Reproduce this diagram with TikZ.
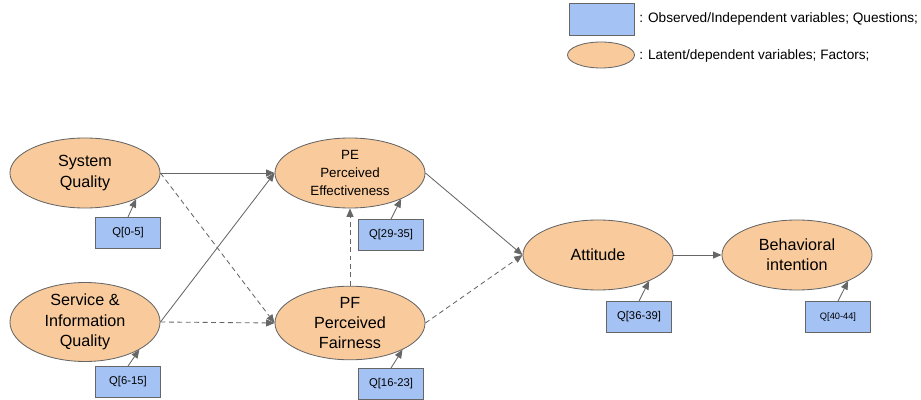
\documentclass[tikz,border=0pt]{standalone}
\usepackage{fontspec}
\setmainfont{Liberation Sans}
\usetikzlibrary{arrows.meta,shapes.geometric}
\definecolor{factorfill}{HTML}{F9CB9C}
\definecolor{questfill}{HTML}{A4C2F4}
\definecolor{linegray}{HTML}{666666}
\tikzset{
  factor/.style={ellipse, draw=linegray, fill=factorfill, line width=0.6pt,
    minimum width=3.75cm, minimum height=1.75cm, inner sep=0pt, align=center,
    font=\fontsize{11.5}{14.5}\selectfont},
  quest/.style={rectangle, draw=linegray, fill=questfill, line width=0.6pt,
    minimum width=1.625cm, minimum height=0.775cm, inner sep=0pt,
    font=\fontsize{8}{9.6}\selectfont},
  legtext/.style={anchor=west, inner sep=0pt, font=\fontsize{9.7}{11.5}\selectfont},
  link/.style={-{Triangle[length=6pt,width=5pt]}, draw=linegray, line width=0.6pt},
  weak/.style={link, dash pattern=on 3.5pt off 2.5pt},
}

\begin{document}
\begin{tikzpicture}[x=0.025cm, y=-0.025cm]
\useasboundingbox (0,0) rectangle (921,400);

%% Legend
\node[quest, minimum height=0.8cm] (legq) at (602,19) {};
\node[legtext] (legqt) at (639,19) {: Observed/Independent variables; Questions;};
\node[factor, minimum width=1.675cm, minimum height=0.65cm] (legf) at (601,55) {};
\node[legtext] (legft) at (639,56) {: Latent/dependent variables; Factors;};

%% Factors
\node[factor] (sq)  at (85,173)  {System\\Quality};
\node[factor] (siq) at (85,322)  {Service \&\\Information\\Quality};
\node[factor, font=\fontsize{9.5}{12.5}\selectfont] (pe) at (350,173)
  {PE\\Perceived\\Effectiveness};
\node[factor] (pf)  at (350,323) {PF\\Perceived\\Fairness};
\node[factor] (att) at (598,255) {Attitude};
\node[factor] (bi)  at (797,255) {Behavioral\\intention};

%% Questions
\node[quest] (qsq)  at (128,233) {Q[0-5]};
\node[quest] (qsiq) at (128,382) {Q[6-15]};
\node[quest] (qpe)  at (391,235) {Q[29-35]};
\node[quest] (qpf)  at (391,384) {Q[16-23]};
\node[quest] (qatt) at (639,317) {Q[36-39]};
\node[quest, font=\fontsize{6.6}{8}\selectfont] (qbi) at (838,317) {Q[40-44]};

\foreach \q/\f in {qsq/sq, qsiq/siq, qpe/pe, qpf/pf, qatt/att, qbi/bi}
  \draw[link] (\q.north) -- (\f.-27);

%% Paths
\draw[link] (sq.east) -- (pe.west);
\draw[weak] (sq.east) -- (pf.west);
\draw[link] (siq.east) -- (pe.west);
\draw[weak] (siq.east) -- (pf.west);
\draw[weak] (pf.north) -- (pe.south);
\draw[link] (pe.east) -- (att.west);
\draw[weak] (pf.east) -- (att.west);
\draw[link] (att.east) -- (bi.west);

\end{tikzpicture}
\end{document}
